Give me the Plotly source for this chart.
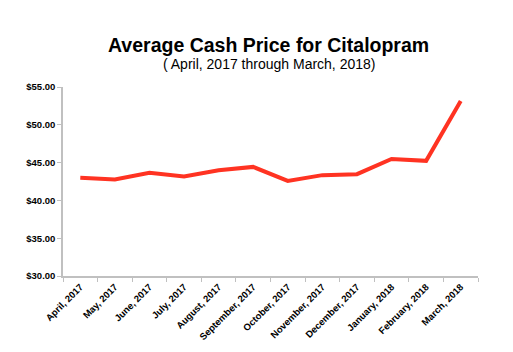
import plotly.graph_objects as go

months = ["April, 2017", "May, 2017", "June, 2017", "July, 2017", "August, 2017",
          "September, 2017", "October, 2017", "November, 2017", "December, 2017",
          "January, 2018", "February, 2018", "March, 2018"]
prices = [42.98, 42.76, 43.64, 43.16, 44.00, 44.43, 42.58, 43.34, 43.47, 45.49, 45.23, 53.15]
y_ticks = [30, 35, 40, 45, 50, 55]
y_tick_labels = ["$%.2f" % v for v in y_ticks]

fig = go.Figure()
fig.add_trace(go.Scatter(
    x=months, y=prices, mode="lines",
    line=dict(color="#ff3322", width=4),
    hoverinfo="x+y",
))

fig.update_layout(
    width=513, height=352,
    margin=dict(l=63, r=35, t=87, b=76),
    paper_bgcolor="white", plot_bgcolor="white",
    showlegend=False,
    font=dict(family="Liberation Sans, Arial, sans-serif", color="black"),
    annotations=[
        dict(text="<b>Average Cash Price for Citalopram</b>", x=0.496, y=1.2,
             xref="paper", yref="paper", showarrow=False,
             font=dict(size=19.5, color="black"), xanchor="center", yanchor="middle"),
        dict(text="( April, 2017 through March, 2018)", x=0.496, y=1.1,
             xref="paper", yref="paper", showarrow=False,
             font=dict(size=14, color="black"), xanchor="center", yanchor="middle"),
    ],
)
# place annotations at pixel rows of the reference
plot_h = 352 - 87 - 76
for ann, ypx in zip(fig.layout.annotations, [45, 64]):
    ann.y = (352 - 76 - ypx) / plot_h

fig.update_xaxes(
    type="category", automargin=False,
    showline=True, linecolor="#c0c0c0", linewidth=1.5,
    ticks="outside", tickson="boundaries", ticklen=4, tickcolor="#c0c0c0", tickwidth=1,
    tickangle=-45,
    tickfont=dict(size=9.5, family="Liberation Sans, Arial, sans-serif", weight="bold"),
    showgrid=False, zeroline=False,
    range=[-0.5, 11.5],
)
fig.update_yaxes(
    range=[30, 55], automargin=False,
    tickvals=y_ticks, ticktext=y_tick_labels,
    showline=True, linecolor="#c0c0c0", linewidth=1.5,
    ticks="outside", ticklen=4, tickcolor="#c0c0c0", tickwidth=1,
    tickfont=dict(size=9.5, family="Liberation Sans, Arial, sans-serif", weight="bold"),
    showgrid=False, zeroline=False,
)

fig.write_html("out.html")
